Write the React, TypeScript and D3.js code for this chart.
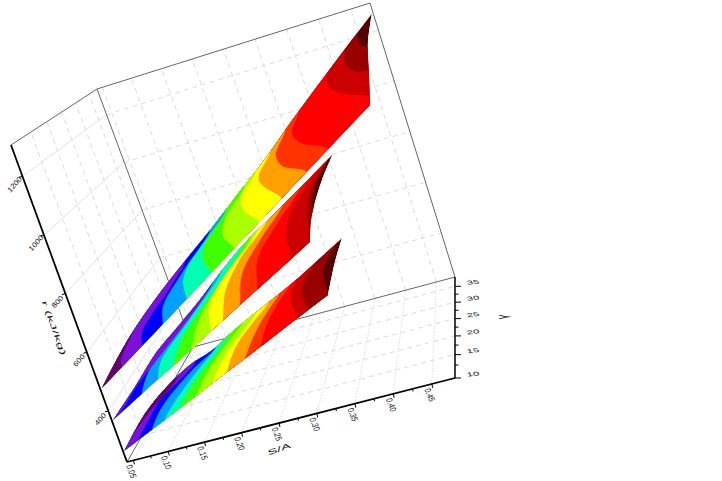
import React from 'react';
import * as d3 from 'd3';

// axis values
const saTicks = [0.05, 0.10, 0.15, 0.20, 0.25, 0.30, 0.35, 0.40, 0.45];
const saMinor = [0.075, 0.125, 0.175, 0.225, 0.275, 0.325, 0.375, 0.425];
const gammaTicks = [10, 15, 20, 25, 30, 35];
const gammaMinor = [12.5, 17.5, 22.5, 27.5, 32.5];
const rTicks = [400, 600, 800, 1000, 1200];
const saDomain = [0.04, 0.48];
const gammaDomain = [10, 38];
const rDomain = [226, 1307];

// one surface = two rails (gamma 10 side, top side), read column by column
const sheet1Sa = [0.043, 0.092, 0.138, 0.183, 0.227, 0.270, 0.313, 0.355, 0.397, 0.438, 0.479];
const sheet1RLow = [477, 544, 610, 677, 744, 811, 878, 945, 1012, 1079, 1146];
const sheet1GammaTop = [10, 11.5, 12.6, 13.6, 14.5, 16, 17.8, 20.7, 24.5, 29.7, 37.5];
const sheet1RTop = [477, 593, 684, 764, 840, 918, 995, 1077, 1152, 1218, 1271];
const sheet1EndGamma = [24, 16.2];
const sheet1EndR = [1249, 1195];

const sheet2Sa = [0.042, 0.077, 0.110, 0.143, 0.175, 0.206, 0.237, 0.268, 0.299, 0.329, 0.359];
const sheet2RLow = [368, 408, 448, 487, 527, 567, 607, 647, 687, 726, 766];
const sheet2GammaTop = [10, 11.4, 13.4, 15.2, 17.2, 19.9, 22.7, 25.3, 28.6, 32.4, 37.4];
const sheet2RTop = [368, 433, 502, 552, 601, 654, 697, 730, 759, 784, 805];
const sheet2EndGamma = [25.7, 17.8, 12.8];
const sheet2EndR = [815, 810, 796];

const sheet3Sa = [0.042, 0.077, 0.110, 0.143, 0.175, 0.206, 0.238, 0.269, 0.299, 0.330, 0.360];
const sheet3RLow = [263, 295, 327, 360, 392, 425, 457, 489, 522, 554, 586];
const sheet3GammaTop = [10, 11.8, 13.1, 14.2, 14.7, 16, 17.3, 18.6, 20.4, 22.9, 26];
const sheet3RTop = [263, 339, 388, 424, 446, 478, 505, 529, 552, 576, 595];
const sheet3EndGamma = [17.8];
const sheet3EndR = [598];

// contour band colours, low to high
const bandColors = ['#660066', '#7b10d8', '#0000ff', '#00a0ff', '#00ffb0', '#40ff00', '#aaff00',
  '#ffff00', '#ff9f00', '#ff3300', '#ff0000', '#cc0000', '#990000', '#550000'];

// where each contour sits along the sheet (0..1), at 0, 50, 80 and 100% across it
const sheet1BandLow = [0.074, 0.148, 0.226, 0.315, 0.407, 0.493, 0.585, 0.67, 0.763, 0.844, 1.02, 1.2, 1.4];
const sheet1BandMid = [0.07, 0.15, 0.226, 0.3, 0.375, 0.45, 0.53, 0.605, 0.67, 0.74, 0.893, 0.96, 1.05];
const sheet1BandKnee = [0.085, 0.26, 0.3, 0.32, 0.38, 0.455, 0.515, 0.58, 0.645, 0.705, 0.84, 0.905, 0.96];
const sheet1BandTop = [0.11, 0.31, 0.4, 0.46, 0.44, 0.53, 0.57, 0.625, 0.68, 0.73, 0.83, 0.9, 0.945];

const sheet2BandLow = [-0.2, 0.035, 0.147, 0.228, 0.305, 0.396, 0.497, 0.558, 0.645, 0.731, 0.9, 1.0, 1.3];
const sheet2BandMid = [-0.2, 0.065, 0.155, 0.23, 0.33, 0.41, 0.46, 0.54, 0.62, 0.695, 0.83, 0.93, 0.96];
const sheet2BandKnee = [-0.2, 0.1, 0.2, 0.35, 0.5, 0.5, 0.5, 0.59, 0.69, 0.77, 0.835, 0.92, 0.945];
const sheet2BandTop = [-0.2, 0.45, 0.45, 0.5, 0.6, 0.63, 0.66, 0.7, 0.77, 0.85, 0.9, 0.96, 0.98];

const sheet3BandLow = [-0.3, 0.069, 0.137, 0.2, 0.275, 0.358, 0.431, 0.505, 0.593, 0.667, 0.848, 0.9, 1.0];
const sheet3BandMid = [-0.3, 0.115, 0.18, 0.29, 0.345, 0.4, 0.48, 0.53, 0.625, 0.68, 0.795, 0.845, 0.945];
const sheet3BandKnee = [0.1, 0.165, 0.31, 0.37, 0.435, 0.48, 0.56, 0.6, 0.67, 0.72, 0.78, 0.84, 0.94];
const sheet3BandTop = [0.25, 0.33, 0.42, 0.43, 0.48, 0.54, 0.61, 0.66, 0.71, 0.76, 0.79, 0.87, 0.98];

const sheets = [
  { id: 1, sa: sheet1Sa, rLow: sheet1RLow, gammaTop: sheet1GammaTop, rTop: sheet1RTop, endGamma: sheet1EndGamma, endR: sheet1EndR,
    bands: [sheet1BandLow, sheet1BandMid, sheet1BandKnee, sheet1BandTop] },
  { id: 2, sa: sheet2Sa, rLow: sheet2RLow, gammaTop: sheet2GammaTop, rTop: sheet2RTop, endGamma: sheet2EndGamma, endR: sheet2EndR,
    bands: [sheet2BandLow, sheet2BandMid, sheet2BandKnee, sheet2BandTop] },
  { id: 3, sa: sheet3Sa, rLow: sheet3RLow, gammaTop: sheet3GammaTop, rTop: sheet3RTop, endGamma: sheet3EndGamma, endR: sheet3EndR,
    bands: [sheet3BandLow, sheet3BandMid, sheet3BandKnee, sheet3BandTop] },
];
const bandStops = [0, 0.5, 0.8, 1];

// box corners on screen, index = sa/gamma/r end
const corners: Record<string, number[]> = {
  '000': [127, 462], '100': [455, 378], '010': [193, 347], '110': [455, 277],
  '001': [11, 145], '101': [356, 57], '011': [97, 89], '111': [370, 3],
};
const saScale = d3.scaleLinear().domain(saDomain).range([0, 1]);
const gammaScale = d3.scaleLinear().domain(gammaDomain).range([0, 1]);
const rScale = d3.scaleLinear().domain(rDomain).range([0, 1]);

type Pt = [number, number];
const mix = (a: number, b: number, t: number) => a + (b - a) * t;
const signedPow = (x: number, p: number) => Math.sign(x) * Math.pow(Math.abs(x), p);

function project(sa: number, gamma: number, r: number): Pt {
  const s = signedPow(saScale(sa), 1.04);
  const g = signedPow(gammaScale(gamma), 0.85);
  const h = rScale(r);
  const at = (i: number) => {
    const bottom = mix(mix(corners['000'][i], corners['100'][i], s), mix(corners['010'][i], corners['110'][i], s), g);
    const top = mix(mix(corners['001'][i], corners['101'][i], s), mix(corners['011'][i], corners['111'][i], s), g);
    return mix(bottom, top, h);
  };
  return [at(0), at(1)];
}

const straight = d3.line<Pt>();
const smooth = d3.line<Pt>().curve(d3.curveCatmullRom.alpha(0.5));
const joinPath = (a: string, b: string) => a + b.replace(/^M/, 'L');

const saMin = saDomain[0], saMax = saDomain[1];
const gMin = gammaDomain[0], gMax = gammaDomain[1];
const rMin = rDomain[0], rMax = rDomain[1];

function Seg({ a, b, stroke = '#dcdcdc', dash, width = 1 }: { a: Pt; b: Pt; stroke?: string; dash?: string; width?: number }) {
  return <line x1={a[0]} y1={a[1]} x2={b[0]} y2={b[1]} stroke={stroke} strokeWidth={width} strokeDasharray={dash} />;
}

function Label({ m, at, children, size = 10 }: { m: number[]; at: Pt; children: React.ReactNode; size?: number }) {
  return (
    <text transform={`matrix(${m[0]} ${m[1]} ${m[2]} ${m[3]} ${at[0]} ${at[1]})`} textAnchor="middle" dy=".35em"
      fontSize={size} fontFamily="Liberation Sans" fill="#111">{children}</text>
  );
}

function Sheet({ sheet }: { sheet: typeof sheets[number] }) {
  const n = sheet.sa.length;
  const cols = sheet.sa.map((_, i) => i / (n - 1));
  const lowPts = sheet.sa.map((sa, i) => project(sa, gMin, sheet.rLow[i]));
  const topPts = sheet.sa.map((sa, i) => project(sa, sheet.gammaTop[i], sheet.rTop[i]));
  const endPts = sheet.endGamma.map((g, i) => project(sheet.sa[n - 1], g, sheet.endR[i])).reverse();

  const scaleOf = (pts: Pt[], k: number) => d3.scaleLinear().domain(cols).range(pts.map(p => p[k]));
  const lowX = scaleOf(lowPts, 0), lowY = scaleOf(lowPts, 1), topX = scaleOf(topPts, 0), topY = scaleOf(topPts, 1);
  const point = (u: number, v: number): Pt => [mix(lowX(u), topX(u), v), mix(lowY(u), topY(u), v)];

  const outline = joinPath(joinPath(
    straight(lowPts)!,
    smooth([lowPts[n - 1], ...endPts, topPts[n - 1]])!),
    smooth([...topPts].reverse())!) + 'Z';

  const clipId = `sheet-${sheet.id}`;
  const over = 0.3; // overshoot of the rails, the clip trims it

  const regions = sheet.bands[0].map((_, k) => {
    const us = sheet.bands.map(b => b[k]);
    const edge: Pt[] = [
      point(us[0], -over),
      ...us.map((u, j) => point(u, bandStops[j])),
      point(us[3], 1 + over),
    ];
    const back: Pt[] = [
      ...cols.filter(u => u < us[3]).reverse().map(u => point(u, 1 + over)),
      point(-0.05, 1 + over),
      point(-0.05, -over),
      ...cols.filter(u => u < us[0]).map(u => point(u, -over)),
    ];
    return joinPath(smooth(edge)!, straight(back)!) + 'Z';
  });

  return (
    <g>
      <clipPath id={clipId}><path d={outline} /></clipPath>
      <g clipPath={`url(#${clipId})`}>
        <path d={outline} fill={bandColors[bandColors.length - 1]} />
        {regions.map((d, k) => ({ d, k })).reverse().filter(({ k }) => sheet.bands[3][k] > 0).map(({ d, k }) => (
          <path key={k} d={d} fill={bandColors[k]} />
        ))}
      </g>
    </g>
  );
}

export default function App() {
  const dashed = '5 4';
  const gridGammas = gammaTicks.slice(1);
  return (
    <svg width={722} height={481} style={{ position: 'absolute', left: 0, top: 0 }}>
      <rect width={722} height={481} fill="#fff" />

      {/* left wall */}
      {rTicks.map(r => <Seg key={r} a={project(saMin, gMin, r)} b={project(saMin, gMax, r)} stroke="#e2e2e2" />)}
      {gridGammas.map(g => <Seg key={g} a={project(saMin, g, rMin)} b={project(saMin, g, rMax)} dash={dashed} />)}

      {/* back wall */}
      {rTicks.map(r => <Seg key={r} a={project(saMin, gMax, r)} b={project(saMax, gMax, r)} dash={dashed} />)}
      {saTicks.map(s => <Seg key={s} a={project(s, gMax, rMin)} b={project(s, gMax, rMax)} dash={dashed} />)}

      {/* floor */}
      {saTicks.map(s => <Seg key={s} a={project(s, gMin, rMin)} b={project(s, gMax, rMin)} dash="1.5 1.5" />)}
      {gridGammas.map(g => <Seg key={g} a={project(saMin, g, rMin)} b={project(saMax, g, rMin)} dash={dashed} />)}

      {/* box */}
      {[
        [project(saMin, gMin, rMax), project(saMin, gMax, rMax)],
        [project(saMin, gMax, rMax), project(saMax, gMax, rMax)],
        [project(saMax, gMax, rMax), project(saMax, gMax, rMin)],
        [project(saMin, gMax, rMax), project(saMin, gMax, rMin)],
        [project(saMin, gMin, rMin), project(saMin, gMax, rMin)],
        [project(saMin, gMax, rMin), project(saMax, gMax, rMin)],
      ].map((p, i) => <Seg key={i} a={p[0] as Pt} b={p[1] as Pt} stroke="#666" />)}

      {sheets.map(s => <Sheet key={s.id} sheet={s} />)}

      {/* axes */}
      <Seg a={project(saMin, gMin, rMin)} b={project(saMin, gMin, rMax)} stroke="#000" width={1.8} />
      <Seg a={project(saMin, gMin, rMin)} b={project(saMax, gMin, rMin)} stroke="#000" width={1.8} />
      <Seg a={project(saMax, gMin, rMin)} b={project(saMax, gMax, rMin)} stroke="#000" width={1.5} />

      {saTicks.map(s => {
        const p = project(s, gMin, rMin);
        return (
          <g key={s}>
            <Seg a={p} b={[p[0] + 1, p[1] + 4]} stroke="#000" />
            <Label m={[0.26, 0.66, -0.85, 0.25]} at={[p[0] - 2, p[1] + 11]}>{s.toFixed(2)}</Label>
          </g>
        );
      })}
      {saMinor.map(s => {
        const p = project(s, gMin, rMin);
        return <Seg key={s} a={p} b={[p[0] + 0.6, p[1] + 2.5]} stroke="#000" />;
      })}

      {gammaTicks.map(g => {
        const p = project(saMax, g, rMin);
        return (
          <g key={g}>
            <Seg a={p} b={[p[0] + 6, p[1]]} stroke="#000" />
            <Label m={[1.1, -0.12, 0.2, 0.55]} at={[p[0] + 18, p[1] - 4]}>{g}</Label>
          </g>
        );
      })}
      {gammaMinor.map(g => {
        const p = project(saMax, g, rMin);
        return <Seg key={g} a={p} b={[p[0] + 3.5, p[1]]} stroke="#000" />;
      })}

      {rTicks.map(r => {
        const p = project(saMin, gMin, r);
        return (
          <g key={r}>
            <Seg a={p} b={[p[0] - 3.5, p[1] + 0.9]} stroke="#000" />
            <Label m={[0.55, -0.62, 0.5, 0.5]} at={[p[0] - 8, p[1] + 8]}>{r}</Label>
          </g>
        );
      })}

      <Label m={[1.4, -0.5, 0.2, 0.7]} at={[279, 449]}>S/A</Label>
      <Label m={[0.55, 1.5, -0.7, 0.15]} at={[54, 328]}>r (kJ/kg)</Label>
      <Label m={[0, 0.9, 1.4, 0]} at={[502, 317]}>γ</Label>
    </svg>
  );
}
